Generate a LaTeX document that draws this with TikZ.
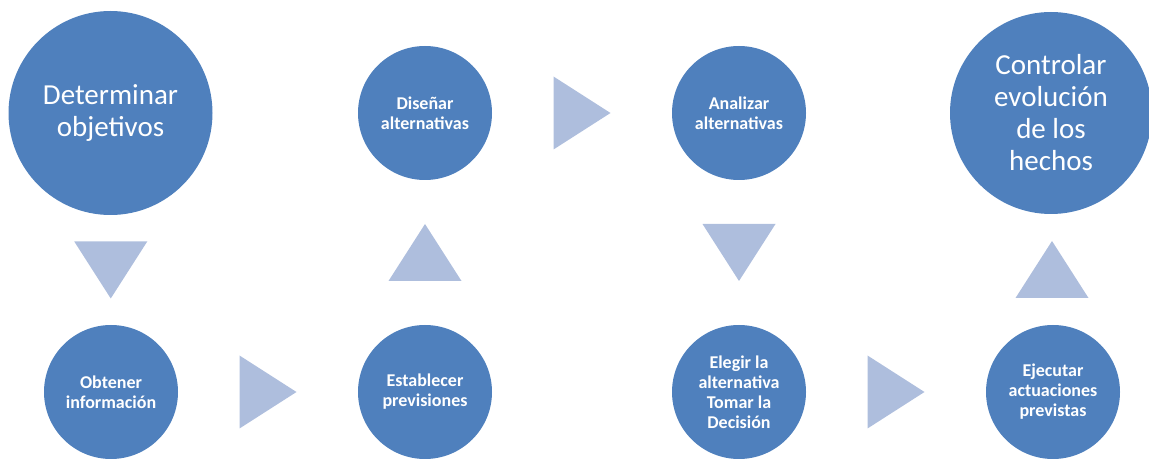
\documentclass[tikz,border=0pt]{standalone}
\usepackage{fontspec}
\setmainfont{Carlito}
\usetikzlibrary{positioning,calc}
\definecolor{stepblue}{RGB}{79,128,189}
\definecolor{flowblue}{RGB}{174,190,221}

\begin{document}
\begin{tikzpicture}[x=1pt,y=1pt,
  bigstep/.style={circle,fill=stepblue,text=white,minimum size=204pt,inner sep=0pt,align=center,font=\fontsize{29}{32}\selectfont},
  smallstep/.style={circle,fill=stepblue,text=white,minimum size=134pt,inner sep=0pt,align=center,font=\fontsize{18}{20}\selectfont\bfseries},
  flowtri/.pic={\fill[flowblue] (-28.5,-36.5) -- (28.5,0) -- (-28.5,36.5) -- cycle;}]
\useasboundingbox (0,0) rectangle (1149,458);

% Top row
\node[bigstep] (det) at (110.5,345) {Determinar\\objetivos};
\node[smallstep] (dis) at (425,345) {Diseñar\\alternativas};
\node[smallstep] (ana) at (739,345) {Analizar\\alternativas};
\node[bigstep, minimum size=202pt] (con) at (1051,345) {Controlar\\evolución\\de los\\hechos};

% Bottom row
\node[smallstep] (obt) at (111,66) {Obtener\\información};
\node[smallstep] (est) at (425,66) {Establecer\\previsiones};
\node[smallstep] (ele) at (739,66) {Elegir la\\alternativa\\Tomar la\\Decisión};
\node[smallstep] (eje) at (1053,66) {Ejecutar\\actuaciones\\previstas};

% Arrows
\pic[rotate=-90] at ($(det.south)!0.5!(obt.north)$) {flowtri};
\pic at ($(obt.east)!0.5!(est.west)$) {flowtri};
\pic[rotate=90] at ($(est.north)!0.5!(dis.south)$) {flowtri};
\pic at ($(dis.east)!0.5!(ana.west)$) {flowtri};
\pic[rotate=-90] at ($(ana.south)!0.5!(ele.north)$) {flowtri};
\pic at ($(ele.east)!0.5!(eje.west)$) {flowtri};
\pic[rotate=90] at ($(eje.north)!0.5!(con.south)$) {flowtri};
\end{tikzpicture}
\end{document}
